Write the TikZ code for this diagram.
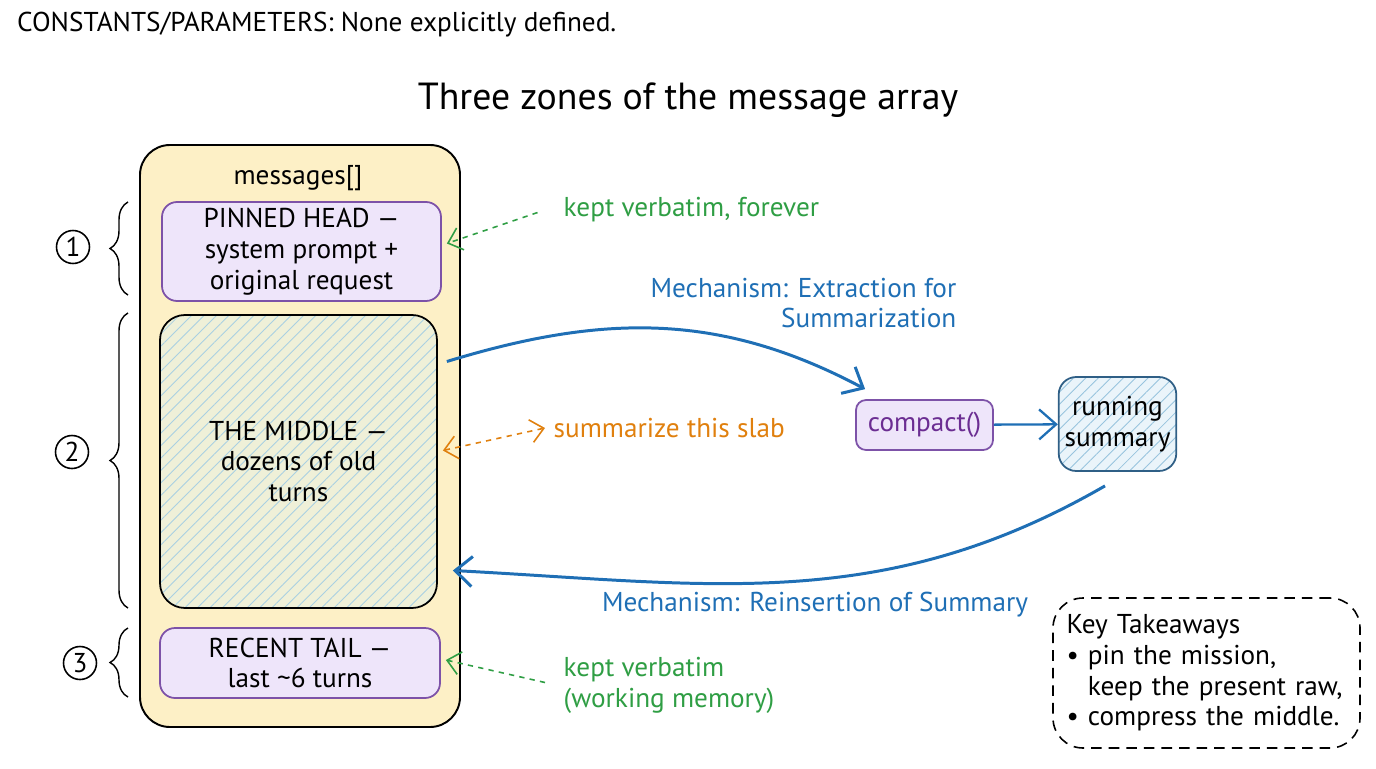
\documentclass[tikz,border=0pt]{standalone}
\usepackage{fontspec}
\setmainfont{PT Sans}
\usetikzlibrary{positioning,arrows.meta,calc,patterns.meta,decorations.pathreplacing}

\definecolor{msgfill}{HTML}{FDF0C6}
\definecolor{pinfill}{HTML}{EEE5FA}
\definecolor{pinline}{HTML}{7D52A8}
\definecolor{midfill}{HTML}{EFF0D8}
\definecolor{midhatch}{HTML}{A9D0E2}
\definecolor{sumfill}{HTML}{EAF4FA}
\definecolor{sumhatch}{HTML}{98C4DE}
\definecolor{sumline}{HTML}{2F5F86}
\definecolor{flowblue}{HTML}{1F6FB5}
\definecolor{keptgreen}{HTML}{2F9E44}
\definecolor{slaborange}{HTML}{E0800E}
\definecolor{compactpurple}{HTML}{6B2D92}

\begin{document}
\begin{tikzpicture}[
    >={Straight Barb[length=3.4mm,width=6mm]},
    font=\fontsize{15.5}{17.5}\selectfont,
    msgbox/.style={
        draw=black,
        line width=1.1pt,
        rounded corners=6mm,
        fill=msgfill,
        minimum width=6.4cm,
        minimum height=11.64cm
    },
    pinbox/.style={
        draw=pinline,
        line width=1pt,
        rounded corners=3mm,
        fill=pinfill,
        align=center
    },
    midbox/.style={
        draw=black,
        line width=1pt,
        rounded corners=5mm,
        align=center,
        preaction={fill=midfill},
        preaction={pattern={Lines[angle=45,distance=5pt,line width=0.5pt]},
            pattern color=midhatch}
    },
    sumbox/.style={
        draw=sumline,
        line width=1pt,
        rounded corners=3.5mm,
        align=center,
        preaction={fill=sumfill},
        preaction={pattern={Lines[angle=45,distance=5pt,line width=0.5pt]},
            pattern color=sumhatch}
    },
    num/.style={draw=black, circle, line width=0.9pt, inner sep=1.5pt,
        minimum size=0.66cm},
    brc/.style={decorate, decoration={brace, amplitude=0.36cm}, line width=0.8pt},
    keptarr/.style={->, dashed, draw=keptgreen, line width=0.9pt,
        >={Straight Barb[length=2.6mm,width=4.6mm]}},
    flowarr/.style={->, draw=flowblue, line width=1.7pt}
]
\useasboundingbox (0,0) rectangle (27.52,-15.36);

% header and title
\node[anchor=west] (consts) at (0.22,-0.5)
    {CONSTANTS/PARAMETERS: None explicitly defined.};
\node[font=\fontsize{21.5}{24}\selectfont] (title) at (13.76,-2.0)
    {Three zones of the message array};

% the message array
\node[msgbox] (msgs) at (6.0,-8.72) {};
\node (msglabel) at (5.96,-3.56) {messages[]};

\node[pinbox, minimum width=5.58cm, minimum height=1.98cm] (pinned) at (6.03,-5.03)
    {PINNED HEAD —\\system prompt +\\original request};
\node[midbox, minimum width=5.54cm, minimum height=5.86cm] (middle) at (5.97,-9.23)
    {THE MIDDLE —\\dozens of old\\turns};
\node[pinbox, minimum width=5.6cm, minimum height=1.4cm] (tail) at (6.0,-13.26)
    {RECENT TAIL —\\last \textasciitilde6 turns};

% zone braces
\draw[brc] (2.56,-5.9) -- (2.56,-4.04);
\draw[brc] (2.56,-12.16) -- (2.56,-6.26);
\draw[brc] (2.56,-13.94) -- (2.56,-12.56);
\node[num] (one) at (1.46,-4.94) {1};
\node[num] (two) at (1.44,-9.04) {2};
\node[num] (three) at (1.6,-13.26) {3};

% notes
\node[anchor=west, text=keptgreen] (keptpin) at (11.15,-4.2)
    {kept verbatim, forever};
\node[anchor=west, text=slaborange] (slab) at (10.95,-8.56)
    {summarize this slab};
\node[anchor=west, align=left, text=keptgreen] (kepttail) at (11.15,-13.7)
    {kept verbatim\\(working memory)};

\draw[keptarr] ([xshift=-0.4cm,yshift=-0.05cm]keptpin.west) -- ([xshift=0.1cm,yshift=0.16cm]pinned.east);
\draw[keptarr, draw=slaborange, <->] ([xshift=0.1cm,yshift=0.22cm]middle.east) -- ([xshift=-0.05cm]slab.west);
\draw[keptarr] ([xshift=-0.25cm,yshift=0.05cm]kepttail.west) -- ([xshift=0.1cm,yshift=0.06cm]tail.east);

% compaction loop
\node[pinbox, minimum width=2.74cm, minimum height=1.0cm, text=compactpurple,
    rounded corners=2mm] (compact) at (18.49,-8.5) {compact()};
\node[sumbox, minimum width=2.3cm, minimum height=1.88cm] (running) at (22.35,-8.48)
    {running\\summary};

\draw[flowarr] ([xshift=0.18cm,yshift=2.0cm]middle.east)
    to[out=17, in=152] ([xshift=0.2cm,yshift=0.2cm]compact.north west);
\draw[flowarr, line width=1.3pt] (compact) -- (running);
\draw[flowarr] ([xshift=-0.25cm,yshift=-0.28cm]running.south)
    to[out=-150, in=-3] ([xshift=0.3cm,yshift=-2.18cm]middle.east);

\node[anchor=east, align=right, text=flowblue] (extract) at (19.25,-6.06)
    {Mechanism: Extraction for\\Summarization};
\node[text=flowblue] (reinsert) at (16.3,-12.1)
    {Mechanism: Reinsertion of Summary};

% takeaways
\node[draw=black, dash pattern=on 6pt off 4pt, line width=0.9pt, rounded corners=6mm,
    minimum width=6.14cm, minimum height=3.0cm, align=left,
    text width=5.6cm] (takeaways) at (24.13,-13.46)
    {Key Takeaways\\
     \textbullet\ pin the mission,\\
     \phantom{\textbullet\ }keep the present raw,\\
     \textbullet\ compress the middle.};

\end{tikzpicture}
\end{document}
